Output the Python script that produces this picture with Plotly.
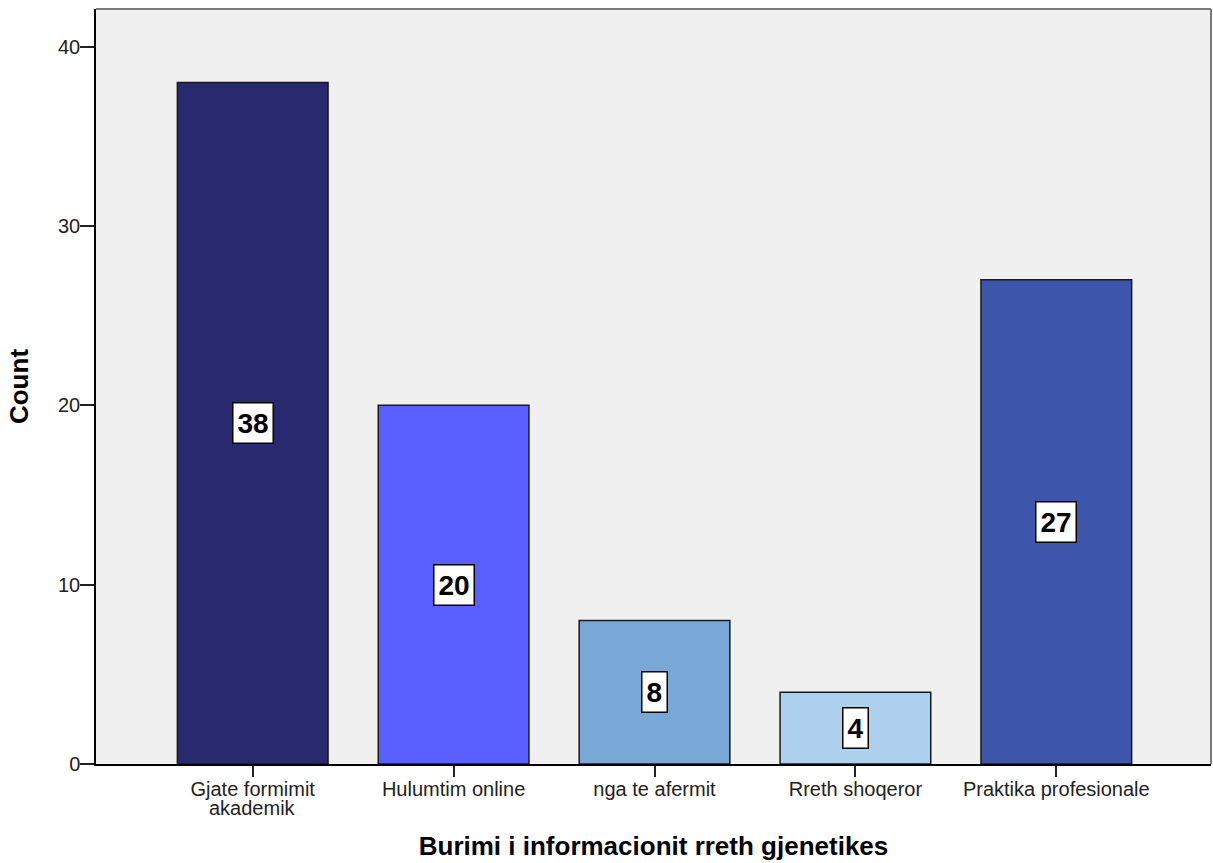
import plotly.graph_objects as go

categories = ["Gjate formimit akademik", "Hulumtim online", "nga te afermit",
              "Rreth shoqeror", "Praktika profesionale"]
tick_text = ["Gjate formimit", "Hulumtim online", "nga te afermit",
             "Rreth shoqeror", "Praktika profesionale"]
counts = [38, 20, 8, 4, 27]
bar_colors = ["#29296f", "#5a5fff", "#79a8d6", "#add0ef", "#3d55aa"]
y_ticks = [0, 10, 20, 30, 40]

FONT = "Arial, Liberation Sans, sans-serif"

fig = go.Figure()
fig.add_trace(go.Bar(
    x=categories, y=counts, width=0.75,
    marker=dict(color=bar_colors, line=dict(color="#1a1a1a", width=1.5)),
    hoverinfo="x+y",
))

# value labels in white boxes at mid-height of each bar
for cat, val in zip(categories, counts):
    fig.add_annotation(
        x=cat, y=val / 2, text=f"<b>{val}</b>", showarrow=False,
        font=dict(family=FONT, size=28, color="black"),
        bgcolor="white", bordercolor="black", borderwidth=1.5, borderpad=4,
    )

# second line of the first category label, set tight under the tick label
fig.add_annotation(
    x=categories[0], xref="x", yref="paper", y=-0.0583, yanchor="middle",
    text="akademik", showarrow=False,
    font=dict(family=FONT, size=20, color="#222222"),
)

# plot frame: grey top and right edges
fig.add_shape(type="line", xref="paper", yref="paper", x0=0, x1=1, y0=1, y1=1,
              line=dict(color="#7a7a7a", width=2))
fig.add_shape(type="line", xref="paper", yref="paper", x0=1, x1=1, y0=0, y1=1,
              line=dict(color="#7a7a7a", width=2))

fig.update_layout(
    width=1213, height=863,
    margin=dict(l=96, r=2, t=9, b=99),
    paper_bgcolor="white", plot_bgcolor="#f0f0f0",
    showlegend=False, bargap=0.25,
    font=dict(family=FONT, color="#222222"),
    xaxis=dict(
        range=[-0.78, 4.77], showgrid=False, zeroline=False,
        tickmode="array", tickvals=categories, ticktext=tick_text,
        showline=True, linecolor="black", linewidth=1.5,
        ticks="outside", ticklen=11, tickcolor="#222222", tickwidth=1.5,
        ticklabelstandoff=-5,
        tickfont=dict(family=FONT, size=20, color="#222222"),
        title=dict(text="<b>Burimi i informacionit rreth gjenetikes</b>",
                   font=dict(family=FONT, size=26, color="black"), standoff=38),
    ),
    yaxis=dict(
        range=[0, 42.1], tickvals=y_ticks, showgrid=False, zeroline=False,
        showline=True, linecolor="black", linewidth=1.5,
        ticks="outside", ticklen=14, tickcolor="#222222", tickwidth=1.5,
        ticklabelstandoff=-4,
        tickfont=dict(family=FONT, size=20, color="#222222"),
        title=dict(text="<b>Count</b>", font=dict(family=FONT, size=26, color="black"),
                   standoff=22),
    ),
)

fig.write_html("out.html")
